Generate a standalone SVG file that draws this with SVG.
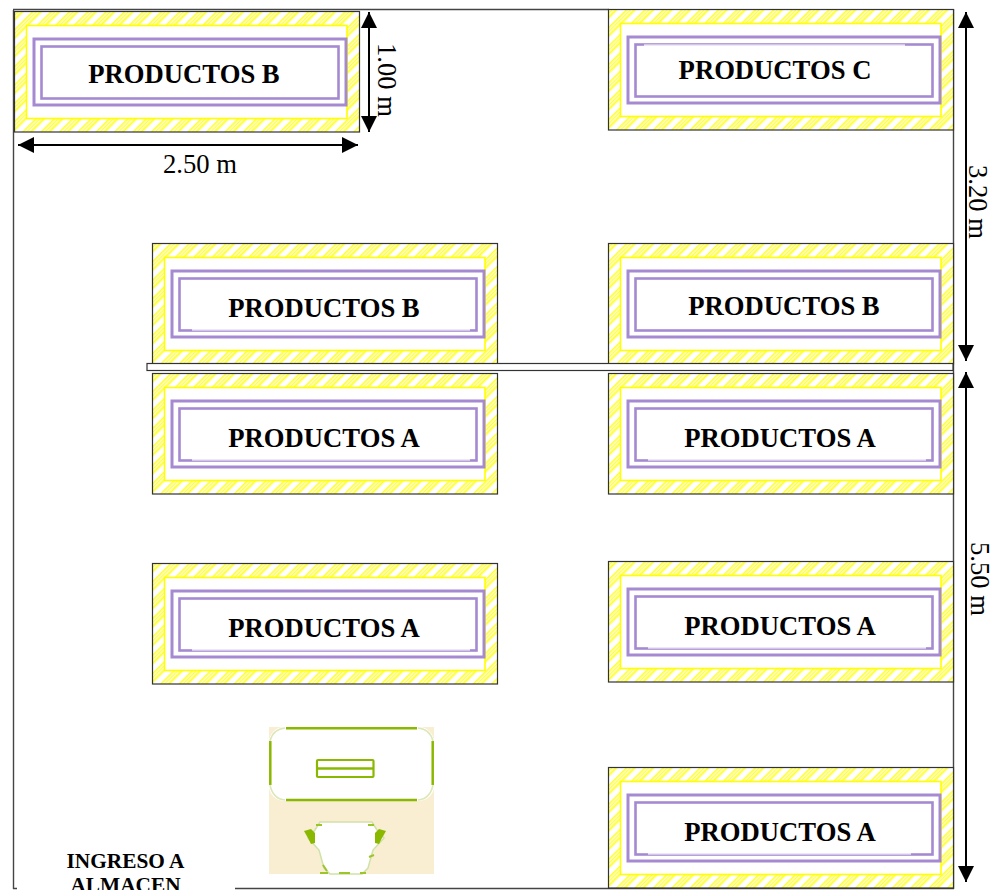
<svg xmlns="http://www.w3.org/2000/svg" width="998" height="890" viewBox="0 0 998 890">
<style>
text{font-family:"Liberation Serif","Times New Roman",serif;fill:#000}
.lbl{font-size:26.67px;font-weight:bold;text-anchor:middle}
.dim{font-size:26.67px;text-anchor:middle}
.ing{font-size:21.33px;font-weight:bold;text-anchor:middle}
.wall{stroke:#444;stroke-width:1.4;fill:none}
.arrow{stroke:#000;stroke-width:2;fill:none;marker-start:url(#ah);marker-end:url(#ah)}
.notch{stroke:#fff;stroke-width:1.3;fill:none}
.green{stroke:#8ab800;fill:none}
</style>
<defs>
<pattern id="hatch" width="13" height="13" patternUnits="userSpaceOnUse" patternTransform="rotate(-45)">
<rect width="13" height="13" fill="#fff"/>
<rect width="13" height="7.5" fill="#ffff33"/>
<rect y="1.7" width="13" height="1.1" fill="#fff"/>
<rect y="4.2" width="13" height="1.1" fill="#fff"/>
</pattern>
<marker id="ah" markerUnits="userSpaceOnUse" markerWidth="16" markerHeight="16" refX="16" refY="8" orient="auto-start-reverse" viewBox="0 0 16 16"><path d="M0 0L16 8L0 16Z" fill="#000"/></marker>
<g id="box">
<rect x="0.5" y="0.5" width="345" height="120.5" fill="url(#hatch)" stroke="#333" stroke-width="1.2"/>
<rect x="12.5" y="14.5" width="320.5" height="93" fill="#fff" stroke="#ffff00" stroke-width="1.6"/>
<rect x="20" y="28" width="312" height="66" fill="none" stroke="#a58ad2" stroke-width="3"/>
<rect x="27.5" y="35.5" width="297" height="52" fill="#fff" stroke="#a58ad2" stroke-width="2.6"/>
</g>
</defs>
<rect width="998" height="890" fill="#fff"/>
<g id="walls">
<path class="wall" d="M13.5 10V889M13 9.5H609M953.5 9V889M235 888.5H954M13 888.5H17"/>
</g>
<g id="box-b1"><use href="#box" x="14" y="11"/><text class="lbl" x="184" y="83">PRODUCTOS B</text></g>
<g id="box-c"><use href="#box" x="608" y="9"/><path class="notch" d="M644 45.2H905"/><text class="lbl" x="775" y="79">PRODUCTOS C</text></g>
<g id="box-b2"><use href="#box" x="152" y="243"/><path class="notch" d="M192 329.8H470"/><text class="lbl" x="324" y="317">PRODUCTOS B</text></g>
<g id="box-b3"><use href="#box" x="608" y="243"/><text class="lbl" x="784" y="315">PRODUCTOS B</text></g>
<g id="box-a1"><use href="#box" x="152" y="373"/><path class="notch" d="M192 459.8H470"/><text class="lbl" x="324" y="447">PRODUCTOS A</text></g>
<g id="box-a2"><use href="#box" x="608" y="373"/><path class="notch" d="M648 459.8H926"/><text class="lbl" x="780" y="447">PRODUCTOS A</text></g>
<g id="box-a3"><use href="#box" x="152" y="563"/><path class="notch" d="M192 649.8H470"/><text class="lbl" x="324" y="637">PRODUCTOS A</text></g>
<g id="box-a4"><use href="#box" x="608" y="561"/><path class="notch" d="M648 647.8H926"/><text class="lbl" x="780" y="635">PRODUCTOS A</text></g>
<g id="box-a5"><use href="#box" x="608" y="767"/><path class="notch" d="M648 853.8H911"/><text class="lbl" x="780" y="841">PRODUCTOS A</text></g>
<g id="divider"><rect x="147" y="363.5" width="806" height="7" fill="#fff" stroke="#333" stroke-width="1.2"/></g>
<g id="entrance-icon">
<rect x="269" y="727" width="165" height="147" fill="#f9edd2"/>
<rect x="269" y="727" width="165" height="74" rx="15" fill="#fff"/>
<path class="green" stroke-width="2.5" d="M286 728.3H417M286 800H417M270.3 741V785M432.7 741V785"/>
<path d="M285 728Q273 729 270 741M418 728Q430 729 433 741M270 785Q273 799 285 800M433 785Q430 799 418 800" fill="none" stroke="#dce8b8" stroke-width="1.5"/>
<rect x="317" y="760" width="56.5" height="17" rx="1" class="green" fill="#fff" stroke-width="2.2"/>
<path class="green" d="M317 768.5H373" stroke-width="2.4"/>
<path d="M320 822H372L377 830L384 838L373 850L368 868L362 874H330L324 868L319 850L308 838L315 830Z" fill="#fff" stroke="#cfe2a8" stroke-width="1.5"/>
<path d="M304 831L311 829L315 833V843L311 844L308 838ZM386 831L379 829L375 833V843L379 844L382 838Z" fill="#8ab800"/>
<path d="M316 825H322M368 825H374M323 865L327 871M369 857L374 855M320 873H328M339 873H350M360 873H366" stroke="#9cc52a" stroke-width="2" fill="none"/>
</g>
<g id="connectors">
<path class="arrow" d="M966 12V361"/>
<path class="arrow" d="M966 372V882"/>
<path class="arrow" d="M369 12V132"/>
<path class="arrow" d="M18 145H358"/>
</g>
<g id="dimension-labels">
<text class="dim" x="200" y="173">2.50 m</text>
<text class="dim" transform="translate(378 80) rotate(90)" x="0" y="0">1.00 m</text>
<text class="dim" transform="translate(969 202) rotate(90)" x="0" y="0">3.20 m</text>
<text class="dim" transform="translate(971 579) rotate(90)" x="0" y="0">5.50 m</text>
</g>
<g id="entrance-label">
<text class="ing" x="125.5" y="868">INGRESO A</text>
<text class="ing" x="125.5" y="892">ALMACEN</text>
</g>
</svg>
